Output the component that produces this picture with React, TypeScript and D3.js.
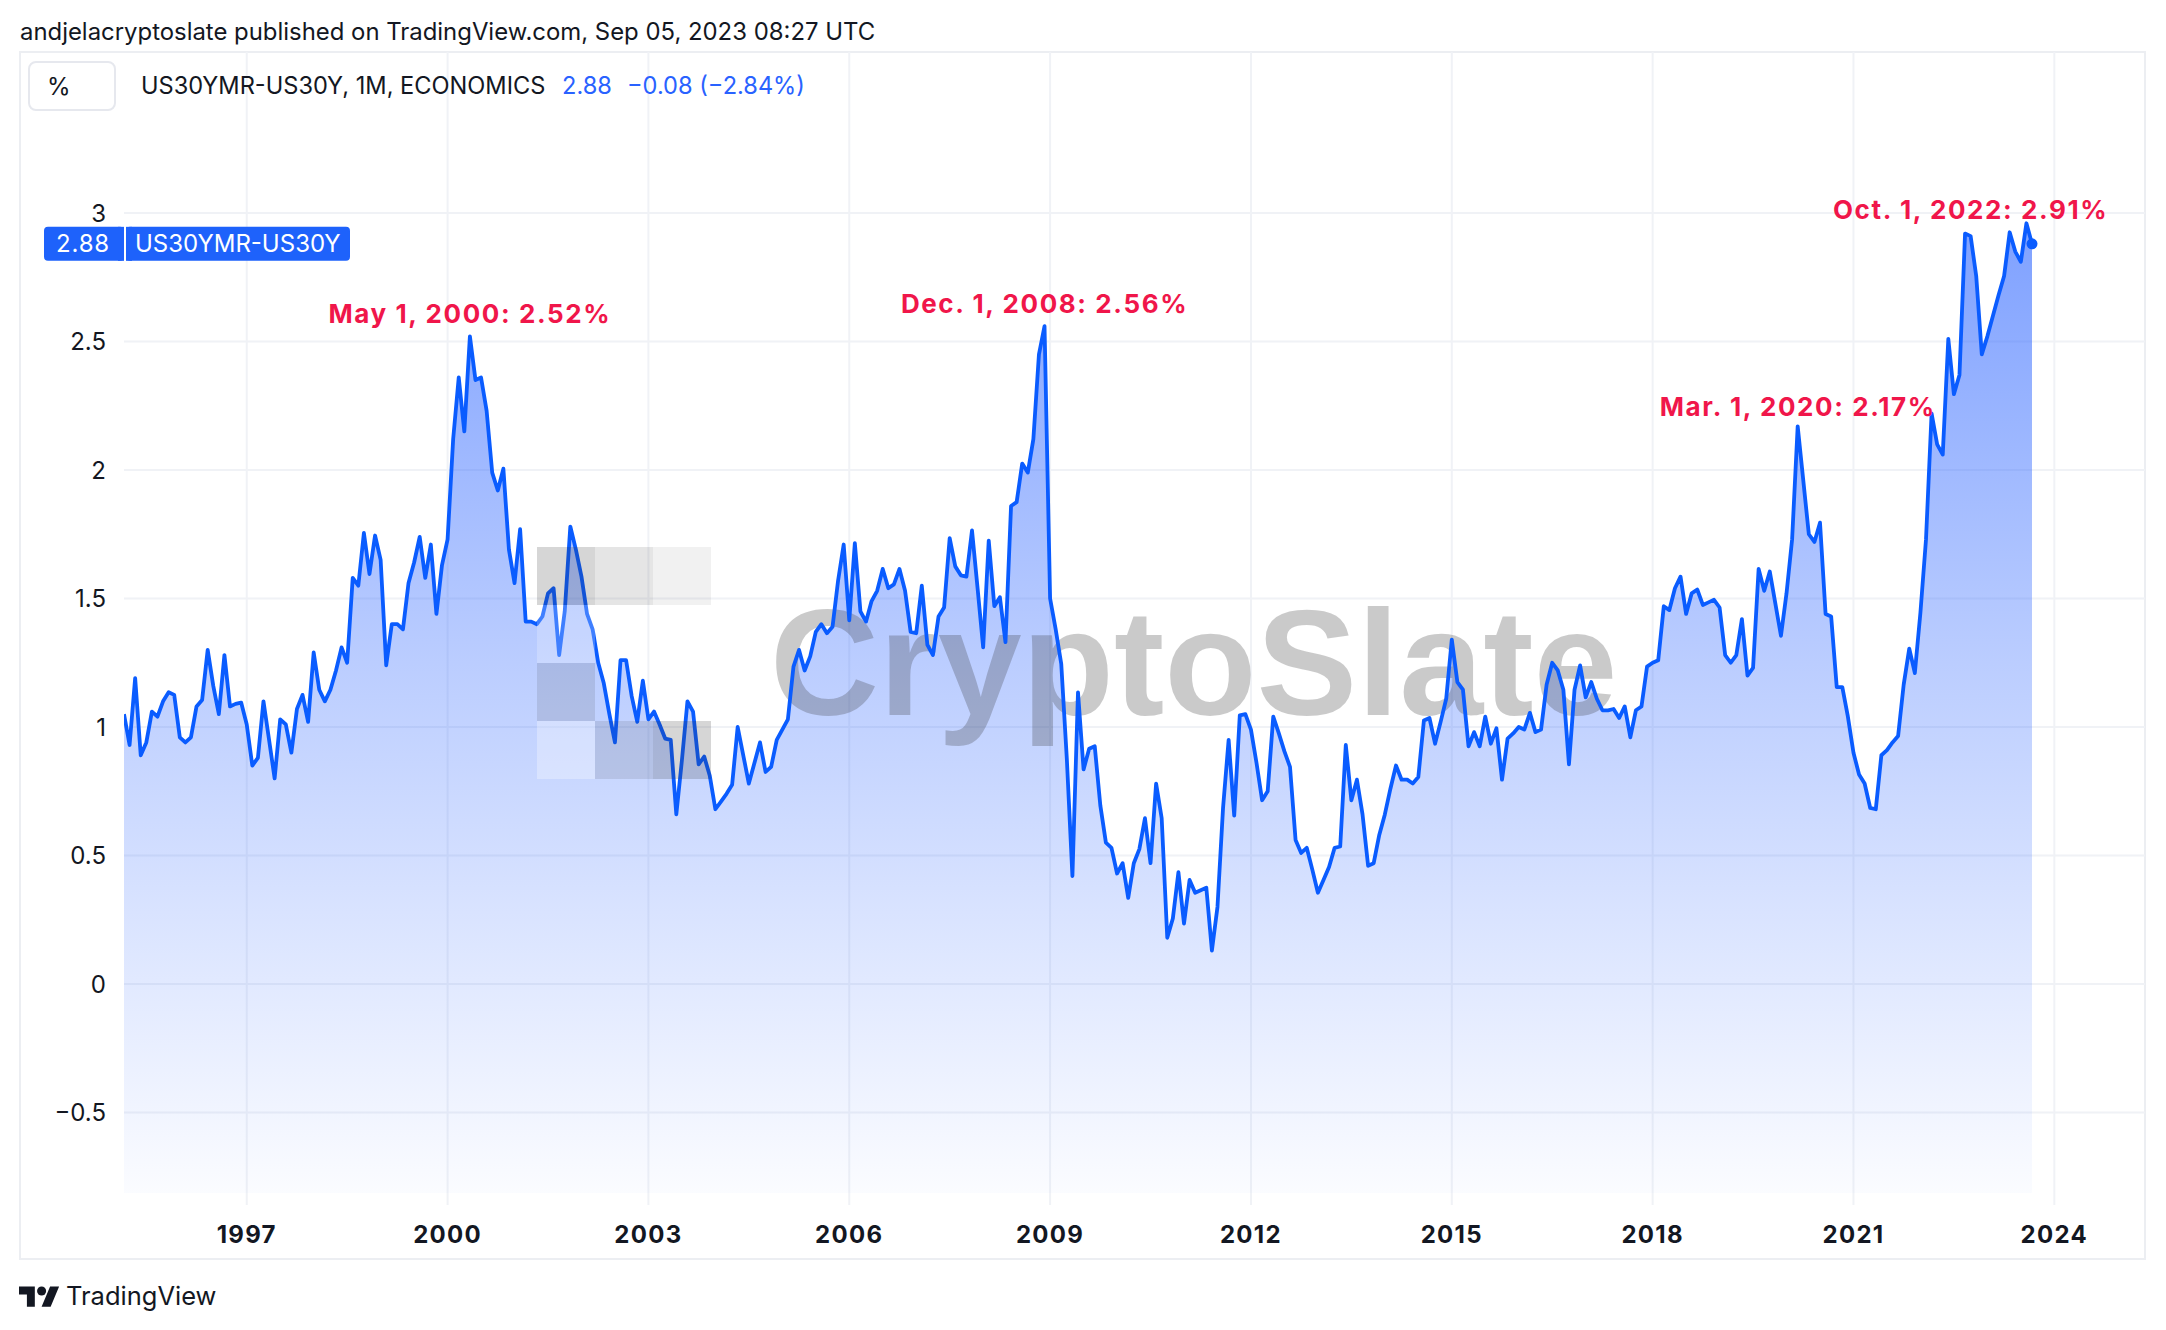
import React from "react";
import * as d3 from "d3";

// ---------- DATA ----------
const SYMBOL = "US30YMR-US30Y";
const START_YEAR = 1995;
const START_MONTH = 3; // first bar: Mar 1995, monthly bars
// US30YMR - US30Y spread (%), monthly, Mar 1995 .. Sep 2023
const spread: number[] = [
  // 1995 (Mar-Dec)
  1.05, 0.93, 1.19, 0.89, 0.94, 1.06, 1.04, 1.1, 1.135, 1.125,
  // 1996
  0.96, 0.94, 0.96, 1.08, 1.105, 1.3, 1.16, 1.05, 1.28, 1.08, 1.09, 1.095,
  // 1997
  1.01, 0.85, 0.88, 1.1, 0.95, 0.8, 1.03, 1.01, 0.9, 1.07, 1.125, 1.02,
  // 1998
  1.29, 1.145, 1.1, 1.145, 1.22, 1.31, 1.25, 1.58, 1.55, 1.755, 1.595, 1.745,
  // 1999
  1.65, 1.24, 1.4, 1.4, 1.38, 1.56, 1.64, 1.74, 1.58, 1.71, 1.44, 1.63,
  // 2000
  1.73, 2.12, 2.36, 2.15, 2.52, 2.35, 2.36, 2.23, 1.99, 1.92, 2.005, 1.69,
  // 2001
  1.56, 1.77, 1.41, 1.41, 1.4, 1.43, 1.52, 1.54, 1.28, 1.45, 1.78, 1.69,
  // 2002
  1.585, 1.44, 1.38, 1.25, 1.17, 1.05, 0.94, 1.26, 1.26, 1.12, 1.02, 1.18,
  // 2003
  1.03, 1.06, 1.01, 0.955, 0.95, 0.66, 0.87, 1.1, 1.06, 0.855, 0.885, 0.81,
  // 2004
  0.68, 0.71, 0.74, 0.775, 1.0, 0.89, 0.78, 0.86, 0.94, 0.825, 0.845, 0.95,
  // 2005
  0.99, 1.03, 1.235, 1.3, 1.22, 1.275, 1.37, 1.4, 1.365, 1.39, 1.57, 1.71,
  // 2006
  1.415, 1.715, 1.45, 1.41, 1.49, 1.53, 1.615, 1.54, 1.555, 1.615, 1.53, 1.37,
  // 2007
  1.365, 1.55, 1.32, 1.28, 1.43, 1.465, 1.735, 1.625, 1.59, 1.585, 1.765, 1.54,
  // 2008
  1.31, 1.725, 1.47, 1.505, 1.33, 1.86, 1.875, 2.025, 1.99, 2.12, 2.45, 2.56,
  // 2009
  1.5, 1.38, 1.245, 0.875, 0.42, 1.135, 0.835, 0.915, 0.925, 0.695, 0.55, 0.53,
  // 2010
  0.43, 0.47, 0.335, 0.47, 0.525, 0.645, 0.47, 0.78, 0.645, 0.18, 0.255, 0.435,
  // 2011
  0.235, 0.405, 0.355, 0.365, 0.375, 0.13, 0.3, 0.685, 0.95, 0.655, 1.045, 1.05,
  // 2012
  0.99, 0.86, 0.715, 0.75, 1.04, 0.975, 0.905, 0.845, 0.56, 0.51, 0.53, 0.445,
  // 2013
  0.355, 0.405, 0.455, 0.53, 0.535, 0.93, 0.715, 0.795, 0.66, 0.46, 0.47, 0.58,
  // 2014
  0.66, 0.76, 0.85, 0.795, 0.795, 0.78, 0.805, 1.025, 1.035, 0.935, 1.02, 1.11,
  // 2015
  1.34, 1.175, 1.145, 0.925, 0.98, 0.925, 1.04, 0.935, 0.995, 0.795, 0.955, 0.975,
  // 2016
  1.0, 0.99, 1.055, 0.98, 0.99, 1.165, 1.25, 1.22, 1.145, 0.855, 1.145, 1.24,
  // 2017
  1.115, 1.175, 1.11, 1.065, 1.065, 1.07, 1.035, 1.08, 0.96, 1.065, 1.08, 1.235,
  // 2018
  1.25, 1.26, 1.47, 1.455, 1.54, 1.585, 1.44, 1.52, 1.535, 1.475, 1.485, 1.495,
  // 2019
  1.465, 1.28, 1.25, 1.28, 1.42, 1.2, 1.23, 1.615, 1.53, 1.605, 1.48, 1.355,
  // 2020
  1.52, 1.73, 2.17, 1.96, 1.75, 1.72, 1.795, 1.44, 1.43, 1.155, 1.155, 1.04,
  // 2021
  0.9, 0.815, 0.78, 0.685, 0.68, 0.89, 0.91, 0.94, 0.965, 1.165, 1.305, 1.21,
  // 2022
  1.445, 1.73, 2.22, 2.1, 2.06, 2.51, 2.295, 2.37, 2.92, 2.91, 2.755, 2.45,
  // 2023 (Jan-Sep)
  2.52, 2.6, 2.68, 2.755, 2.925, 2.85, 2.81, 2.96, 2.88,
];

const yearTicks = [1997, 2000, 2003, 2006, 2009, 2012, 2015, 2018, 2021, 2024];
const valueTicks = [-0.5, 0, 0.5, 1, 1.5, 2, 2.5, 3];

const annotationDates = ["2000-05", "2008-12", "2020-03", "2022-10"];
const annotationValues = [2.52, 2.56, 2.17, 2.91];
const annotationLabels = [
  "May 1, 2000: 2.52%",
  "Dec. 1, 2008: 2.56%",
  "Mar. 1, 2020: 2.17%",
  "Oct. 1, 2022: 2.91%",
];
const annotationDy = [-13, -13, -10, -17];

const lastChange = "\u22120.08 (\u22122.84%)";
const headerText =
  "andjelacryptoslate published on TradingView.com, Sep 05, 2023 08:27 UTC";
const legendText = "US30YMR-US30Y, 1M, ECONOMICS";

// ---------- LAYOUT ----------
const W = 2166;
const H = 1330;
const PANE = { left: 124, right: 2145, top: 52, bottom: 1205 };
const AREA_BOTTOM = 1193;
const FRAME = { left: 20, right: 2145, top: 52, bottom: 1259 };
const LAST_X = 2032;

const BLUE_LINE = "#0a5cff";
const BLUE_TEXT = "#2962ff";
const RED = "#f0164a";
const FONT = "Inter, 'Noto Sans', Roboto, sans-serif";

const monthIndex = (year: number, month: number) =>
  (year - START_YEAR) * 12 + (month - 1);
const firstIdx = monthIndex(START_YEAR, START_MONTH);

type Pt = { i: number; v: number };
const points: Pt[] = spread.map((v, k) => ({ i: firstIdx + k, v }));

function fmtTick(v: number) {
  const s = String(Math.abs(v));
  return v < 0 ? "\u2212" + s : s;
}

export default function App() {
  const lastIdx = points[points.length - 1].i;
  const x = d3.scaleLinear().domain([firstIdx, lastIdx]).range([PANE.left, LAST_X]);
  const y = d3.scaleLinear().domain([0, 3]).range([984, 213]);

  const line = d3
    .line<Pt>()
    .x((d) => x(d.i))
    .y((d) => y(d.v));
  const area = d3
    .area<Pt>()
    .x((d) => x(d.i))
    .y0(AREA_BOTTOM)
    .y1((d) => y(d.v));

  const maxV = d3.max(points, (d) => d.v) as number;
  const last = points[points.length - 1];

  // CryptoSlate logo squares (col,row,fill,opacity)
  const logoCells: [number, number, string, number][] = [
    [0, 0, "#333", 0.2],
    [1, 0, "#333", 0.13],
    [2, 0, "#333", 0.07],
    [0, 1, "#fff", 0.22],
    [0, 2, "#333", 0.13],
    [0, 3, "#fff", 0.3],
    [1, 3, "#333", 0.12],
    [2, 3, "#333", 0.2],
  ];
  const cell = 58;
  const logoX = 537;
  const logoY = 547;

  return (
    <svg
      width={W}
      height={H}
      viewBox={`0 0 ${W} ${H}`}
      style={{ position: "absolute", left: 0, top: 0, background: "#fff" }}
      fontFamily={FONT}
    >
      <defs>
        <linearGradient
          id="areaGrad"
          gradientUnits="userSpaceOnUse"
          x1={0}
          x2={0}
          y1={y(maxV)}
          y2={AREA_BOTTOM}
        >
          <stop offset="0" stopColor="#2962ff" stopOpacity={0.6} />
          <stop offset="0.45" stopColor="#2962ff" stopOpacity={0.32} />
          <stop offset="1" stopColor="#2962ff" stopOpacity={0.02} />
        </linearGradient>
        <clipPath id="paneClip">
          <rect
            x={PANE.left}
            y={PANE.top}
            width={PANE.right - PANE.left}
            height={PANE.bottom - PANE.top}
          />
        </clipPath>
      </defs>

      {/* header */}
      <text x={20} y={40} fontSize={23.9} fill="#131722">
        {headerText}
      </text>

      {/* frame */}
      <rect
        x={FRAME.left}
        y={FRAME.top}
        width={FRAME.right - FRAME.left}
        height={FRAME.bottom - FRAME.top}
        fill="none"
        stroke="#eceef2"
        strokeWidth={2}
      />

      {/* grid */}
      {valueTicks.map((v) => (
        <line
          key={"h" + v}
          x1={PANE.left}
          x2={PANE.right}
          y1={y(v)}
          y2={y(v)}
          stroke="#f0f2f6"
          strokeWidth={2}
        />
      ))}
      {yearTicks.map((yr) => (
        <line
          key={"v" + yr}
          x1={x(monthIndex(yr, 1))}
          x2={x(monthIndex(yr, 1))}
          y1={PANE.top}
          y2={PANE.bottom}
          stroke="#f0f2f6"
          strokeWidth={2}
        />
      ))}

      {/* area + line */}
      <g clipPath="url(#paneClip)">
        <path d={area(points) as string} fill="url(#areaGrad)" />
        {/* watermark text */}
        <text
          x={770}
          y={715}
          fontFamily="'Liberation Sans', Arial, sans-serif"
          fontWeight={700}
          fontSize={151}
          fill="#333"
          fillOpacity={0.26}
        >
          CryptoSlate
        </text>
        <path
          d={line(points) as string}
          fill="none"
          stroke={BLUE_LINE}
          strokeWidth={3.8}
          strokeLinejoin="round"
        />
        {logoCells.map(([c, r, f, o], k) => (
          <rect
            key={"lc" + k}
            x={logoX + c * cell}
            y={logoY + r * cell}
            width={cell}
            height={cell}
            fill={f}
            fillOpacity={o}
          />
        ))}
        <circle cx={x(last.i)} cy={y(last.v)} r={5.5} fill={BLUE_LINE} />
      </g>

      {/* annotations */}
      {annotationDates.map((d, k) => {
        const [yy, mm] = d.split("-").map(Number);
        return (
          <text
            key={"a" + k}
            x={x(monthIndex(yy, mm))}
            y={y(annotationValues[k]) + annotationDy[k]}
            textAnchor="middle"
            fontSize={26}
            fontWeight={700}
            letterSpacing={1.6}
            fill={RED}
          >
            {annotationLabels[k]}
          </text>
        );
      })}

      {/* y axis labels */}
      {valueTicks.map((v) => (
        <text
          key={"yl" + v}
          x={106}
          y={y(v)}
          dy="0.36em"
          textAnchor="end"
          fontSize={24}
          fill="#131722"
        >
          {fmtTick(v)}
        </text>
      ))}

      {/* x axis labels */}
      {yearTicks.map((yr) => (
        <text
          key={"xl" + yr}
          x={x(monthIndex(yr, 1))}
          y={1234}
          dy="0.36em"
          textAnchor="middle"
          fontSize={24}
          fontWeight={700}
          letterSpacing={1.3}
          fill="#131722"
        >
          {yr}
        </text>
      ))}

      {/* legend */}
      <rect x={29} y={62} width={86} height={48} rx={7} fill="#fff" stroke="#e6e8ee" strokeWidth={2} />
      <text x={47} y={86} dy="0.36em" fontSize={24} fill="#131722">
        %
      </text>
      <text x={141} y={86} dy="0.36em" fontSize={23.6} fill="#131722">
        {legendText}
      </text>
      <text x={562} y={86} dy="0.36em" fontSize={23.6} fill={BLUE_TEXT}>
        {String(last.v.toFixed(2))}
      </text>
      <text x={627} y={86} dy="0.36em" fontSize={23.6} fill={BLUE_TEXT}>
        {lastChange}
      </text>

      {/* price label on scale */}
      <g>
        <rect x={44} y={y(last.v) - 17} width={80} height={34} rx={4} fill="#1e62fb" />
        <rect x={126} y={y(last.v) - 17} width={224} height={34} rx={4} fill="#1e62fb" />
        <rect x={118} y={y(last.v) - 17} width={6} height={34} fill="#1e62fb" />
        <rect x={126} y={y(last.v) - 17} width={6} height={34} fill="#1e62fb" />
        <text x={83} y={y(last.v)} dy="0.36em" textAnchor="middle" fontSize={24} letterSpacing={0.8} fill="#fff">
          {last.v.toFixed(2)}
        </text>
        <text x={135} y={y(last.v)} dy="0.36em" fontSize={24} fill="#fff">
          {SYMBOL}
        </text>
      </g>

      {/* TradingView footer */}
      <g transform="translate(19,1282) scale(1.13)" fill="#131722">
        <path d="M14 22H7V11H0V4h14v18zM28 22h-8l7.5-18h8L28 22z" />
        <circle cx={20} cy={8} r={4} />
      </g>
      <text x={66} y={1296} dy="0.36em" fontSize={25.5} fill="#131722">
        TradingView
      </text>
    </svg>
  );
}
